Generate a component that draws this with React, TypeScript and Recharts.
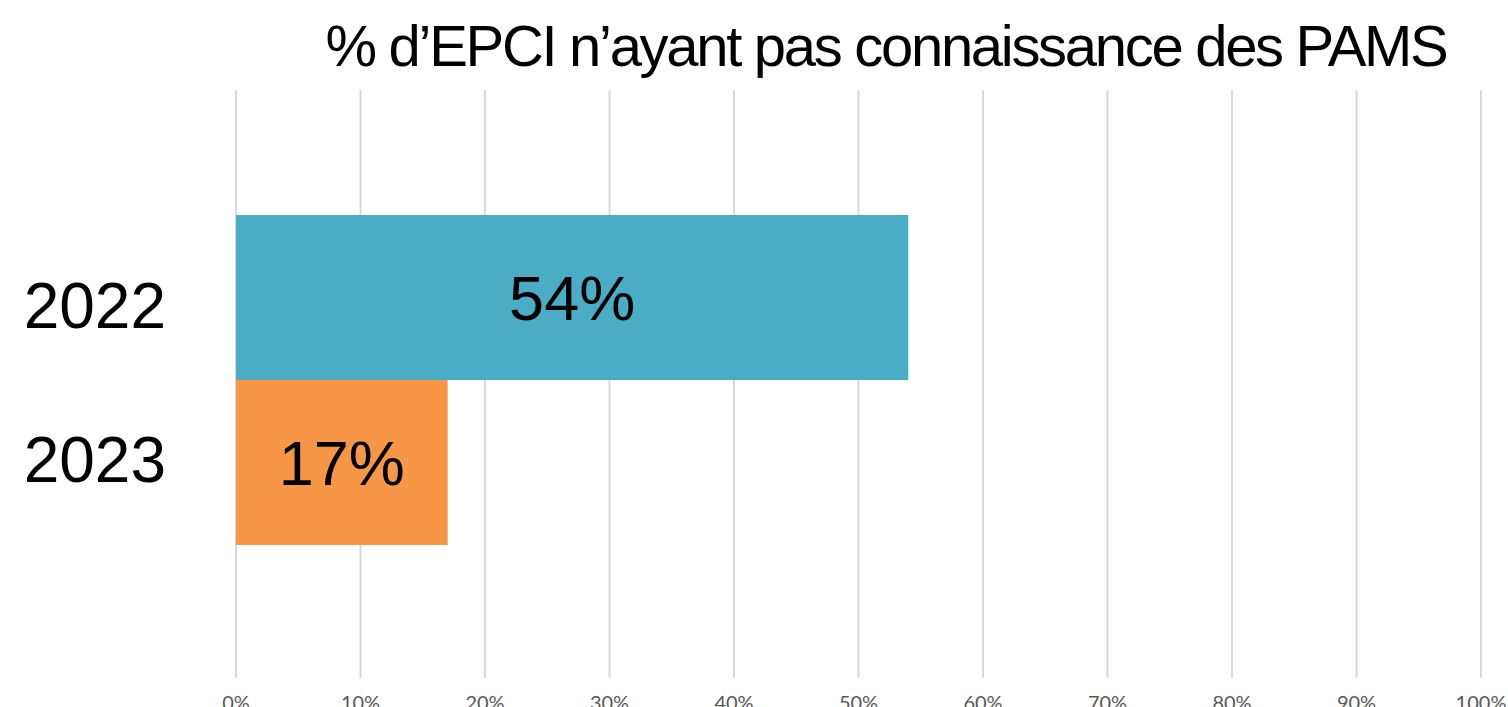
import React from 'react';
import { BarChart, Bar, XAxis, YAxis, CartesianGrid, Cell, LabelList } from 'recharts';

const title = '% d’EPCI n’ayant pas connaissance des PAMS';
const years = ['2022', '2023'];
const values = [0.54, 0.17];
const colors = ['#4BACC6', '#F79646'];
const xTicks = [0, 0.1, 0.2, 0.3, 0.4, 0.5, 0.6, 0.7, 0.8, 0.9, 1];
const yLabelShift = [8, -3];

const data = years.map((y, i) => ({ year: y, value: values[i] }));
const pct = (v: number) => `${Math.round(v * 100)}%`;

const YTick = (props: any) => {
  const { x, y, payload, index } = props;
  return (
    <text
      x={x}
      y={y + (yLabelShift[index] || 0)}
      dy="0.355em"
      textAnchor="end"
      fill="#000"
      fontSize={64}
      fontFamily='"Liberation Sans", Arial, sans-serif'
    >
      {payload.value}
    </text>
  );
};

export default function App() {
  return (
    <div style={{ position: 'absolute', left: 0, top: 0, width: 1508, height: 707, background: '#fff' }}>
      <div
        style={{
          position: 'absolute',
          left: 886,
          top: 13,
          transform: 'translateX(-50%)',
          whiteSpace: 'nowrap',
          fontFamily: '"Liberation Sans", Arial, sans-serif',
          fontSize: 58,
          lineHeight: '66px',
          letterSpacing: '-2.3px',
          color: '#000',
        }}
      >
        {title}
      </div>
      <BarChart
        width={1508}
        height={707}
        data={data}
        layout="vertical"
        margin={{ top: 90, right: 27, left: 0, bottom: 0 }}
        barCategoryGap={0}
      >
        <CartesianGrid horizontal={false} stroke="#d9d9d9" strokeWidth={2} />
        <XAxis
          type="number"
          domain={[0, 1]}
          ticks={xTicks}
          tickFormatter={pct}
          axisLine={false}
          tickLine={false}
          tickSize={0}
          tickMargin={18}
          height={29}
          interval={0}
          tick={{ fill: '#595959', fontSize: 20, fontFamily: 'Lato, sans-serif' }}
        />
        <YAxis
          type="category"
          dataKey="year"
          width={236}
          axisLine={false}
          tickLine={false}
          tickSize={0}
          tickMargin={70}
          padding={{ top: 125, bottom: 133 }}
          tick={<YTick />}
        />
        <Bar dataKey="value" isAnimationActive={false}>
          {data.map((d, i) => (
            <Cell key={d.year} fill={colors[i]} />
          ))}
          <LabelList
            dataKey="value"
            position="center"
            formatter={(v: any) => pct(Number(v))}
            fill="#000"
            fontSize={63}
            fontFamily='"Liberation Sans", Arial, sans-serif'
          />
        </Bar>
      </BarChart>
    </div>
  );
}
